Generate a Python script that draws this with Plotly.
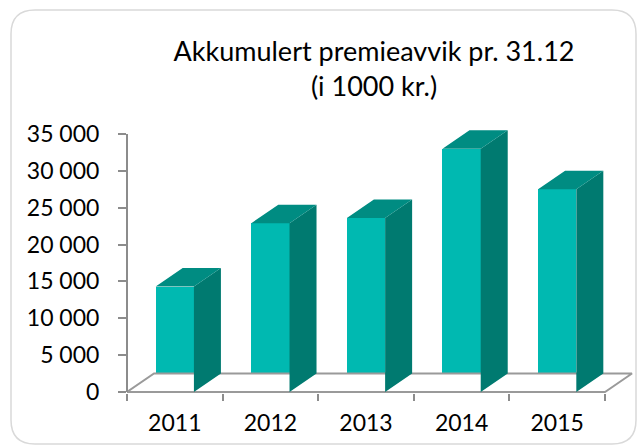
import plotly.graph_objects as go

# ---- data ----
years = ["2011", "2012", "2013", "2014", "2015"]
values = [14300, 22900, 23600, 33000, 27500]
y_tick_vals = [0, 5000, 10000, 15000, 20000, 25000, 30000, 35000]
y_tick_text = ["0", "5 000", "10 000", "15 000", "20 000", "25 000", "30 000", "35 000"]
title_text = "Akkumulert premieavvik pr. 31.12<br>(i 1000 kr.)"

# ---- geometry / style ----
W, H = 637, 445
X_PX = 95.6                 # pixels per category unit
Y_PX = 258 / 35000          # pixels per value unit
LEFT = 127                  # pixel of x = -0.5
BASE = 392                  # pixel of y = 0
BOTTOM_PX = BASE + 1
TOP_PX = 108
L_M = LEFT
R_M = 0
B_M = H - BOTTOM_PX
T_M = TOP_PX
x_min = -0.5
x_max = -0.5 + (W - R_M - LEFT) / X_PX
y_min = -(BOTTOM_PX - BASE) / Y_PX
y_max = (BASE - TOP_PX) / Y_PX

BAR_W = 0.4
DX = 27 / X_PX
DY = 18.5 / Y_PX

FRONT = "#00B9B1"
TOP = "#008C82"
SIDE = "#007A70"
GRAY = "#8C8C8C"
FONT = "Lato, 'Open Sans', sans-serif"

idx = list(range(len(years)))
n = len(years)

fig = go.Figure()

# floor
fx = [-0.5, n - 0.5, n - 0.5 + DX, -0.5 + DX, -0.5]
fy = [0, 0, DY, DY, 0]
fig.add_trace(go.Scatter(x=fx, y=fy, mode="lines", line=dict(color="#9A9A9A", width=2),
                         fill="toself", fillcolor="white", hoverinfo="skip", showlegend=False))

# front faces
fig.add_trace(go.Bar(x=idx, y=values, width=BAR_W, marker=dict(color=FRONT, line=dict(width=0)),
                     hoverinfo="skip", showlegend=False))

# side and top faces
sx, sy, tx, ty = [], [], [], []
for i, v in zip(idx, values):
    xl = i - BAR_W / 2
    xr = i + BAR_W / 2
    sx += [xr, xr + DX, xr + DX, xr, xr, None]
    sy += [0, DY, v + DY, v, 0, None]
    tx += [xl, xr, xr + DX, xl + DX, xl, None]
    ty += [v, v, v + DY, v + DY, v, None]
fig.add_trace(go.Scatter(x=sx, y=sy, mode="lines", line=dict(width=0, color=SIDE), fill="toself",
                         fillcolor=SIDE, hoverinfo="skip", showlegend=False))
fig.add_trace(go.Scatter(x=tx, y=ty, mode="lines", line=dict(width=0, color=TOP), fill="toself",
                         fillcolor=TOP, hoverinfo="skip", showlegend=False))

plot_w = W - L_M - R_M
plot_h = H - T_M - B_M


def px_x(p):
    return (p - L_M) / plot_w


def px_y(p):
    return (H - B_M - p) / plot_h


# rounded border (chart area)
x0, x1, y0, y1, r = 11, 636, 10, 444, 24
path = (f"M {px_x(x0 + r)} {px_y(y0)} L {px_x(x1 - r)} {px_y(y0)} "
        f"Q {px_x(x1)} {px_y(y0)} {px_x(x1)} {px_y(y0 + r)} L {px_x(x1)} {px_y(y1 - r)} "
        f"Q {px_x(x1)} {px_y(y1)} {px_x(x1 - r)} {px_y(y1)} L {px_x(x0 + r)} {px_y(y1)} "
        f"Q {px_x(x0)} {px_y(y1)} {px_x(x0)} {px_y(y1 - r)} L {px_x(x0)} {px_y(y0 + r)} "
        f"Q {px_x(x0)} {px_y(y0)} {px_x(x0 + r)} {px_y(y0)} Z")
fig.add_shape(type="path", path=path, xref="paper", yref="paper",
              line=dict(color="#D9D9D9", width=1.5), layer="below")

# y axis line
fig.add_shape(type="line", xref="x domain", yref="y", x0=0, x1=0, y0=0, y1=y_tick_vals[-1],
              line=dict(color=GRAY, width=2))

fig.update_layout(
    width=W, height=H,
    margin=dict(l=L_M, r=R_M, t=T_M, b=B_M, pad=0),
    paper_bgcolor="white", plot_bgcolor="rgba(0,0,0,0)",
    font=dict(family=FONT, color="#000000"),
    title=dict(text=title_text, x=374 / W, xanchor="center", xref="container",
               y=1 - 61 / H, yanchor="top", yref="container",
               font=dict(family=FONT, size=27, color="#000000")),
    showlegend=False,
    bargap=0,
)
fig.update_xaxes(range=[x_min, x_max], tickvals=idx, ticktext=years, ticks="",
                 showgrid=False, zeroline=False, showline=False,
                 tickfont=dict(size=23, family=FONT, color="#000000"),
                 ticklabelstandoff=14,
                 minor=dict(tickvals=[i - 0.5 for i in range(n + 1)], ticks="outside",
                            ticklen=7, tickwidth=2, tickcolor=GRAY, showgrid=False))
fig.update_yaxes(range=[y_min, y_max], tickvals=y_tick_vals, ticktext=y_tick_text,
                 ticks="outside", ticklen=8, tickwidth=2, tickcolor=GRAY,
                 showgrid=False, zeroline=False, showline=False,
                 tickfont=dict(size=23, family=FONT, color="#000000"),
                 ticklabelstandoff=14)

fig.write_html("out.html", config={"displayModeBar": False},
               post_script="document.body.style.margin='0px';document.body.style.overflow='hidden';")
